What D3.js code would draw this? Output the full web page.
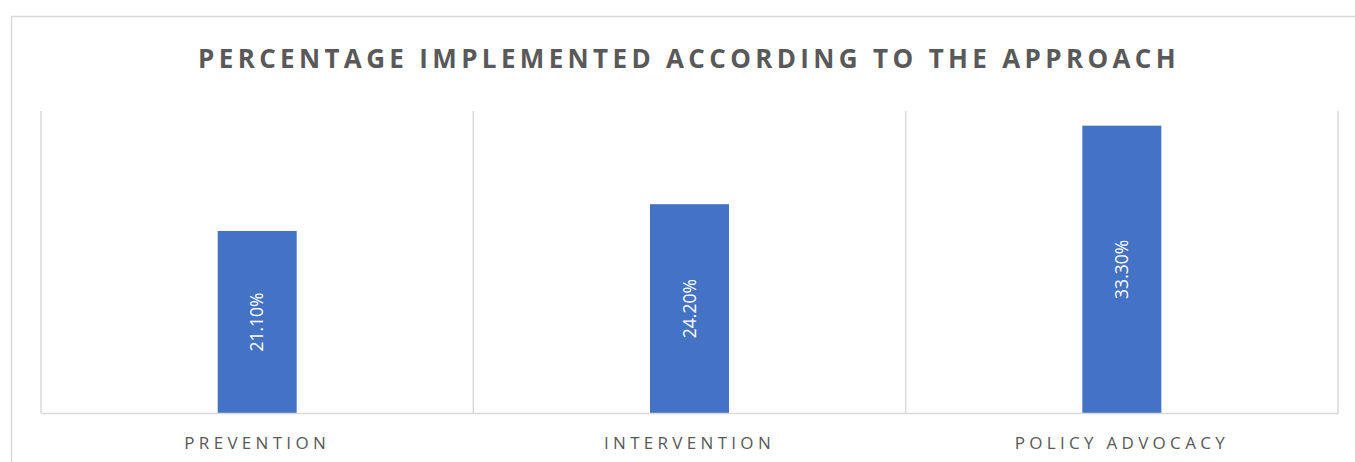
<!DOCTYPE html>
<html>
<head>
<meta charset="utf-8">
<script src="https://cdn.jsdelivr.net/npm/d3@7"></script>
<style>
  body { margin: 0; background: #fff; }
  text { font-family: "Open Sans", sans-serif; }
</style>
</head>
<body>
<svg id="chart"></svg>
<script>
const width = 1355, height = 462;
const marginTop = 111, marginRight = 17, marginBottom = 49, marginLeft = 41;

const categories = ["PREVENTION", "INTERVENTION", "POLICY ADVOCACY"];
const values = [21.1, 24.2, 33.3];
const valueLabels = ["21.10%", "24.20%", "33.30%"];
const chartTitle = "PERCENTAGE IMPLEMENTED ACCORDING TO THE APPROACH";

const svg = d3.select("#chart")
  .attr("width", width)
  .attr("height", height);

// chart area border
svg.append("rect")
  .attr("x", 11.5).attr("y", 16.5)
  .attr("width", width).attr("height", height)
  .attr("fill", "none")
  .attr("stroke", "#d9d9d9")
  .attr("stroke-width", 1.5);

svg.append("text")
  .attr("x", 689).attr("y", 68)
  .attr("text-anchor", "middle")
  .attr("fill", "#595959")
  .attr("font-size", 26)
  .attr("font-weight", "bold")
  .attr("letter-spacing", 4.35)
  .text(chartTitle);

const x = d3.scaleBand(categories, [marginLeft, width - marginRight]).padding(0);
const y = d3.scaleLinear([0, 35], [height - marginBottom, marginTop]);
const barW = 79;

// vertical separators between categories
const edges = categories.map(c => x(c)).concat([width - marginRight]);
svg.append("g")
  .selectAll("line")
  .data(edges)
  .join("line")
  .attr("x1", d => d).attr("x2", d => d)
  .attr("y1", marginTop).attr("y2", height - marginBottom)
  .attr("stroke", "#d9d9d9")
  .attr("stroke-width", 1.5);

svg.append("g")
  .selectAll("rect")
  .data(values)
  .join("rect")
  .attr("x", (d, i) => x(categories[i]) + x.bandwidth() / 2 - barW / 2)
  .attr("y", d => y(d))
  .attr("width", barW)
  .attr("height", d => y(0) - y(d))
  .attr("fill", "#4472c4");

// baseline axis
svg.append("g")
  .attr("transform", `translate(0,${height - marginBottom})`)
  .call(d3.axisBottom(x).tickSize(0).tickPadding(0))
  .call(g => g.select(".domain").attr("stroke", "#d9d9d9").attr("stroke-width", 1.5))
  .call(g => g.selectAll(".tick text")
    .attr("y", 36)
    .attr("dy", 0)
    .attr("fill", "#595959")
    .attr("font-size", 17)
    .attr("font-family", "Open Sans, sans-serif")
    .attr("letter-spacing", 4.3));

// value labels inside bars
svg.append("g")
  .selectAll("text")
  .data(values)
  .join("text")
  .attr("transform", (d, i) => {
    const cx = x(categories[i]) + x.bandwidth() / 2;
    const cy = (y(d) + y(0)) / 2;
    return `translate(${cx},${cy}) rotate(-90)`;
  })
  .attr("text-anchor", "middle")
  .attr("dy", "0.35em")
  .attr("fill", "#fff")
  .attr("font-size", 17.5)
  .text((d, i) => valueLabels[i]);
</script>
</body>
</html>
